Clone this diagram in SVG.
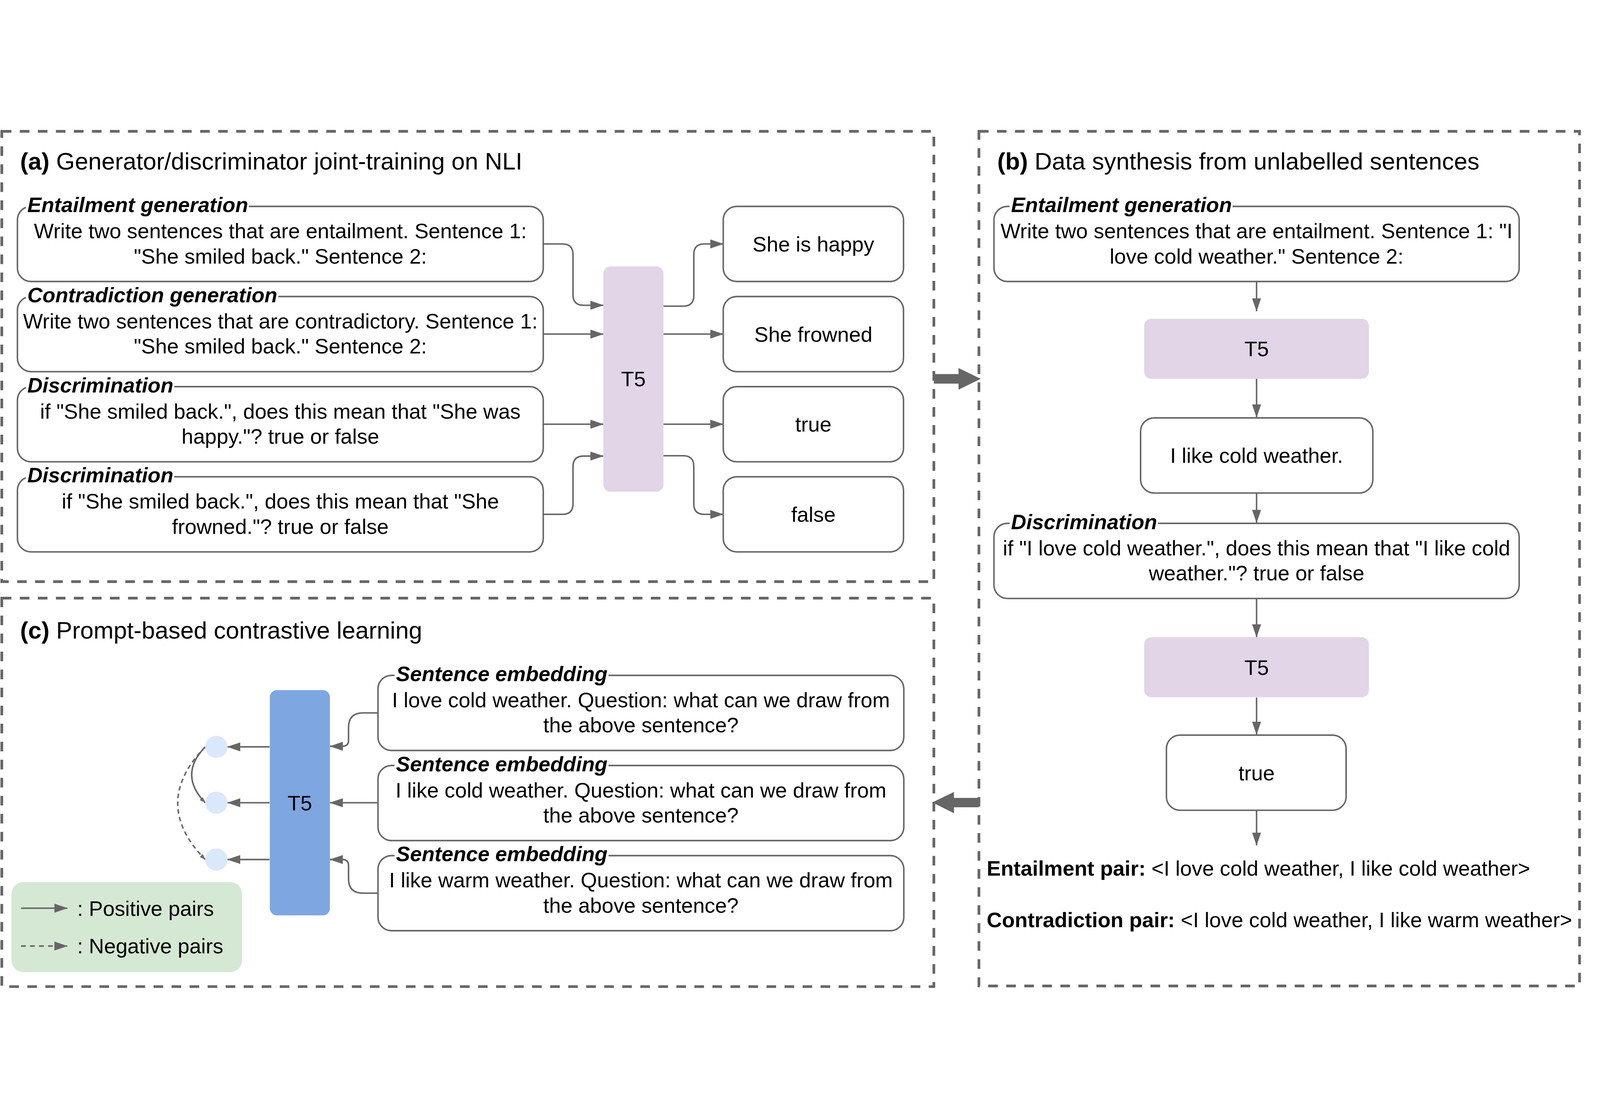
<svg xmlns="http://www.w3.org/2000/svg" width="5325" height="2860" viewBox="0 0 5325 2860">
<defs>
<style>
:root{width:100vw;height:100vh}
text{font-family:"Liberation Sans",Arial,sans-serif;font-size:70px;fill:#000}
.t{font-size:80px}
.b{font-weight:bold}
.lab{font-weight:bold;font-style:italic}
.c{text-anchor:middle}
.panel{fill:none;stroke:#666;stroke-width:9;stroke-dasharray:32 28}
.box{fill:#fff;stroke:#666;stroke-width:5}
.mask{fill:#fff}
.t5p{fill:#e1d5e7}
.t5b{fill:#7ea6e0}
.dot{fill:#dae8fc}
.leg{fill:#d5e8d4}
.e{fill:none;stroke:#666;stroke-width:5;marker-end:url(#ah)}
.es{fill:none;stroke:#666;stroke-width:5;marker-end:url(#ahs)}
.big{fill:#666}
</style>
<marker id="ah" markerUnits="userSpaceOnUse" viewBox="0 0 44 30" refX="43" refY="15" markerWidth="44" markerHeight="30" orient="auto"><path d="M0,0 L44,15 L0,30 z" fill="#666"/></marker>
<marker id="ahs" markerUnits="userSpaceOnUse" viewBox="0 0 20 14" refX="19" refY="7" markerWidth="20" markerHeight="14" orient="auto"><path d="M0,0 L20,7 L0,14 z" fill="#666"/></marker>
</defs>
<rect width="5325" height="2860" fill="#fff"/>

<g id="panels">
<rect class="panel" x="6" y="8" width="3102" height="1499"/>
<rect class="panel" x="3258" y="8" width="1999" height="2845"/>
<rect class="panel" x="6" y="1562" width="3102" height="1293"/>
<text class="t" x="67" y="135"><tspan class="b">(a)</tspan> Generator/discriminator joint-training on NLI</text>
<text class="t" x="3319" y="135"><tspan class="b">(b)</tspan> Data synthesis from unlabelled sentences</text>
<text class="t" x="67" y="1697"><tspan class="b">(c)</tspan> Prompt-based contrastive learning</text>
</g>

<g id="connectors">
<path class="e" d="M1808,383 H1872 Q1907,383 1907,418 V552 Q1907,587 1942,587 H2008"/>
<path class="e" d="M1808,683 H2008"/>
<path class="e" d="M1808,983 H2008"/>
<path class="e" d="M1808,1283 H1872 Q1907,1283 1907,1248 V1124 Q1907,1089 1942,1089 H2008"/>
<path class="e" d="M2208,590 H2274 Q2309,590 2309,555 V418 Q2309,383 2344,383 H2407"/>
<path class="e" d="M2208,683 H2407"/>
<path class="e" d="M2208,983 H2407"/>
<path class="e" d="M2208,1088 H2274 Q2309,1088 2309,1123 V1248 Q2309,1283 2344,1283 H2407"/>
<path class="e" d="M4182,507 V607"/>
<path class="e" d="M4182,832 V960"/>
<path class="e" d="M4182,1212 V1311"/>
<path class="e" d="M4182,1561 V1692"/>
<path class="e" d="M4182,1893 V2016"/>
<path class="e" d="M4182,2268 V2385"/>
<path class="e" d="M1258,1944 H1208 Q1160,1944 1160,1992 V2035 Q1160,2055 1140,2055 H1098"/>
<path class="e" d="M1258,2243 H1098"/>
<path class="e" d="M1258,2544 H1208 Q1160,2544 1160,2496 V2452 Q1160,2432 1140,2432 H1098"/>
<path class="e" d="M897,2057 H757"/>
<path class="e" d="M897,2243 H757"/>
<path class="e" d="M897,2432 H757"/>
<path class="es" d="M683,2057 Q593,2150 683,2243"/>
<path class="es" d="M683,2057 Q500,2245 683,2432" stroke-dasharray="15 11"/>
<polygon class="big" points="3108,816 3190,816 3190,796 3264,832 3190,868 3190,848 3108,848"/>
<polygon class="big" points="3257,2227 3175,2227 3175,2207 3103,2242 3175,2278 3175,2258 3257,2258"/>
</g>

<g id="a-ent">
<rect class="box" x="58" y="258" width="1750" height="250" rx="45"/>
<rect class="mask" x="86" y="252" width="742" height="12"/>
<text class="lab" x="91" y="277">Entailment generation</text>
<text class="c" x="933" y="364">Write two sentences that are entailment. Sentence 1:</text>
<text class="c" x="933" y="448">"She smiled back." Sentence 2:</text>
</g>
<g id="a-con">
<rect class="box" x="58" y="558" width="1750" height="250" rx="45"/>
<rect class="mask" x="86" y="552" width="840" height="12"/>
<text class="lab" x="91" y="577">Contradiction generation</text>
<text class="c" x="933" y="664">Write two sentences that are contradictory. Sentence 1:</text>
<text class="c" x="933" y="748">"She smiled back." Sentence 2:</text>
</g>
<g id="a-dis1">
<rect class="box" x="58" y="858" width="1750" height="250" rx="45"/>
<rect class="mask" x="86" y="852" width="494" height="12"/>
<text class="lab" x="91" y="877">Discrimination</text>
<text class="c" x="933" y="964">if "She smiled back.", does this mean that "She was</text>
<text class="c" x="933" y="1048">happy."? true or false</text>
</g>
<g id="a-dis2">
<rect class="box" x="58" y="1158" width="1750" height="250" rx="45"/>
<rect class="mask" x="86" y="1152" width="494" height="12"/>
<text class="lab" x="91" y="1177">Discrimination</text>
<text class="c" x="933" y="1264">if "She smiled back.", does this mean that "She</text>
<text class="c" x="933" y="1348">frowned."? true or false</text>
</g>
<g id="a-t5">
<rect class="t5p" x="2008" y="458" width="200" height="750" rx="24"/>
<text class="c" x="2108" y="857">T5</text>
</g>
<g id="a-out1"><rect class="box" x="2407" y="258" width="600" height="250" rx="45"/><text class="c" x="2707" y="408">She is happy</text></g>
<g id="a-out2"><rect class="box" x="2407" y="558" width="600" height="250" rx="45"/><text class="c" x="2707" y="708">She frowned</text></g>
<g id="a-out3"><rect class="box" x="2407" y="858" width="600" height="250" rx="45"/><text class="c" x="2707" y="1008">true</text></g>
<g id="a-out4"><rect class="box" x="2407" y="1158" width="600" height="250" rx="45"/><text class="c" x="2707" y="1308">false</text></g>

<g id="b-ent">
<rect class="box" x="3308" y="258" width="1748" height="250" rx="45"/>
<rect class="mask" x="3360" y="252" width="742" height="12"/>
<text class="lab" x="3365" y="277">Entailment generation</text>
<text class="c" x="4182" y="364">Write two sentences that are entailment. Sentence 1: "I</text>
<text class="c" x="4182" y="448">love cold weather." Sentence 2:</text>
</g>
<g id="b-t5a"><rect class="t5p" x="3808" y="632" width="748" height="200" rx="24"/><text class="c" x="4182" y="757">T5</text></g>
<g id="b-like"><rect class="box" x="3796" y="962" width="773" height="250" rx="45"/><text class="c" x="4182" y="1112">I like cold weather.</text></g>
<g id="b-dis">
<rect class="box" x="3308" y="1313" width="1748" height="250" rx="45"/>
<rect class="mask" x="3360" y="1307" width="494" height="12"/>
<text class="lab" x="3365" y="1332">Discrimination</text>
<text class="c" x="4182" y="1419">if "I love cold weather.", does this mean that "I like cold</text>
<text class="c" x="4182" y="1503">weather."? true or false</text>
</g>
<g id="b-t5b"><rect class="t5p" x="3808" y="1692" width="748" height="200" rx="24"/><text class="c" x="4182" y="1817">T5</text></g>
<g id="b-true"><rect class="box" x="3882" y="2018" width="598" height="250" rx="45"/><text class="c" x="4182" y="2168">true</text></g>
<g id="b-pairs">
<text x="3284" y="2486"><tspan class="b">Entailment pair:</tspan> &lt;I love cold weather, I like cold weather&gt;</text>
<text x="3284" y="2657"><tspan class="b">Contradiction pair:</tspan> &lt;I love cold weather, I like warm weather&gt;</text>
</g>

<g id="c-t5"><rect class="t5b" x="898" y="1868" width="200" height="750" rx="24"/><text class="c" x="998" y="2268">T5</text></g>
<g id="c-dot1"><circle class="dot" cx="720" cy="2057" r="37"/></g>
<g id="c-dot2"><circle class="dot" cx="720" cy="2243" r="37"/></g>
<g id="c-dot3"><circle class="dot" cx="720" cy="2432" r="37"/></g>
<g id="c-s1">
<rect class="box" x="1258" y="1819" width="1750" height="250" rx="45"/>
<rect class="mask" x="1313" y="1813" width="712" height="12"/>
<text class="lab" x="1318" y="1838">Sentence embedding</text>
<text class="c" x="2133" y="1925">I love cold weather. Question: what can we draw from</text>
<text class="c" x="2133" y="2009">the above sentence?</text>
</g>
<g id="c-s2">
<rect class="box" x="1258" y="2119" width="1750" height="250" rx="45"/>
<rect class="mask" x="1313" y="2113" width="712" height="12"/>
<text class="lab" x="1318" y="2138">Sentence embedding</text>
<text class="c" x="2133" y="2225">I like cold weather. Question: what can we draw from</text>
<text class="c" x="2133" y="2309">the above sentence?</text>
</g>
<g id="c-s3">
<rect class="box" x="1258" y="2419" width="1750" height="250" rx="45"/>
<rect class="mask" x="1313" y="2413" width="712" height="12"/>
<text class="lab" x="1318" y="2438">Sentence embedding</text>
<text class="c" x="2133" y="2525">I like warm weather. Question: what can we draw from</text>
<text class="c" x="2133" y="2609">the above sentence?</text>
</g>
<g id="legend">
<rect class="leg" x="38" y="2507" width="768" height="300" rx="40"/>
<path class="e" d="M70,2594 H224"/>
<path class="e" d="M70,2720 H224" stroke-dasharray="16 14"/>
<text x="257" y="2619">: Positive pairs</text>
<text x="257" y="2745">: Negative pairs</text>
</g>
</svg>
